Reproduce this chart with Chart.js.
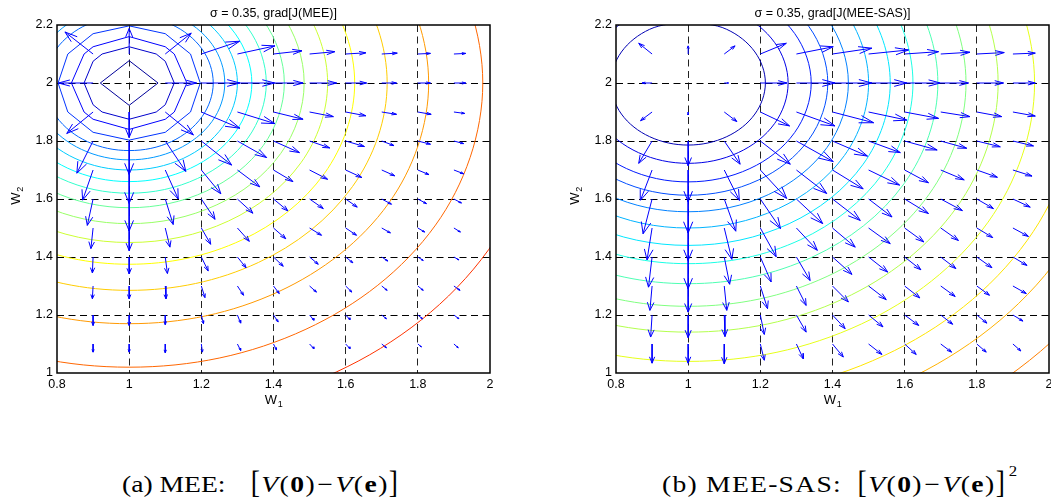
<!DOCTYPE html>
<html>
<head>
<meta charset="utf-8">
<script src="https://cdn.jsdelivr.net/npm/chart.js@4.4.0/dist/chart.umd.min.js"></script>
<style>
  html, body { margin: 0; padding: 0; background: #fff; width: 1051px; height: 504px; overflow: hidden; }
  .panel { position: absolute; top: 0; width: 500px; height: 410px; }
  #panelA { left: 0; }
  #panelB { left: 559px; }
  .cap { position: absolute; top: 472px; display: flex; align-items: baseline; white-space: pre;
         font-family: 'Liberation Serif', 'Times New Roman', serif; font-size: 23px; color: #000;
         transform: scaleX(1.2); transform-origin: 0 0; }
  .cap .math { display: inline-flex; align-items: baseline; letter-spacing: 1.2px; }
  .cap .br { display: inline-block; transform: scaleY(1.38); transform-origin: 50% 62%; font-weight: normal; }
  .cap .gap { display: inline-block; width: 21px; }
  .cap .mi { margin: 0 1px; }
  .cap .sq { font-size: 14px; position: relative; top: -16px; margin-left: 2px; }
  #capA { left: 122px; }
  #capB { left: 662px; }
  #capB .lbl { letter-spacing: 1.05px; }
  #capB .gap { width: 13px; }
</style>
</head>
<body>
<div class="panel" id="panelA"><canvas id="mee"></canvas></div>
<div class="panel" id="panelB"><canvas id="sas"></canvas></div>
<div class="cap" id="capA"><span class="lbl">(a) MEE:</span><span class="gap"></span><span class="math"><span class="br">[</span><i>V</i><span>(</span><b>0</b><span>)</span><span class="mi">−</span><i>V</i><span>(</span><b>e</b><span>)</span><span class="br">]</span></span></div>
<div class="cap" id="capB"><span class="lbl">(b) MEE-SAS:</span><span class="gap"></span><span class="math"><span class="br">[</span><i>V</i><span>(</span><b>0</b><span>)</span><span class="mi">−</span><i>V</i><span>(</span><b>e</b><span>)</span><span class="br">]</span></span><span class="sq">2</span></div>
<script>
// axis ticks
const xTicks = [0.8, 1, 1.2, 1.4, 1.6, 1.8, 2];
const yTicks = [1, 1.2, 1.4, 1.6, 1.8, 2, 2.2];

// arrow tails of the gradient field
const gridX = [0.9, 1.0, 1.1, 1.2, 1.3, 1.4, 1.5, 1.6, 1.7, 1.8, 1.9];
const gridY = [2.1, 2.0, 1.9, 1.8, 1.7, 1.6, 1.5, 1.4, 1.3, 1.2, 1.1];

// MEE gradient, one row per gridY value, one column per gridX value
const meeU = [
  [-0.078, 0, 0.072, 0.106, 0.104, 0.079, 0.07, 0.056, 0.043, 0.035, 0.033],
  [-0.096, 0, 0.087, 0.107, 0.103, 0.082, 0.075, 0.058, 0.041, 0.035, 0.033],
  [-0.073, 0, 0.078, 0.107, 0.104, 0.082, 0.066, 0.056, 0.041, 0.037, 0.03],
  [-0.045, 0, 0.057, 0.084, 0.081, 0.072, 0.056, 0.052, 0.034, 0.035, 0.027],
  [-0.029, 0, 0.036, 0.054, 0.062, 0.054, 0.05, 0.045, 0.036, 0.031, 0.027],
  [-0.016, 0, 0.022, 0.038, 0.043, 0.04, 0.038, 0.032, 0.027, 0.024, 0.021],
  [-0.006, 0, 0.013, 0.026, 0.033, 0.034, 0.033, 0.03, 0.024, 0.019, 0.018],
  [-0.002, 0, 0.006, 0.019, 0.024, 0.027, 0.024, 0.02, 0.017, 0.015, 0.014],
  [-0.002, 0, 0.002, 0.01, 0.017, 0.016, 0.019, 0.017, 0.015, 0.015, 0.017],
  [0, 0, 0, 0.006, 0.009, 0.013, 0.012, 0.012, 0.013, 0.013, 0.014],
  [0, 0, 0, 0.003, 0.009, 0.008, 0.012, 0.012, 0.013, 0.01, 0.012]
];
const meeV = [
  [0.076, 0.088, 0.072, 0.044, 0.028, 0.011, 0.008, 0.004, 0.003, 0.002, 0.002],
  [0, 0, 0, 0, 0, 0, 0, 0, 0, 0, 0],
  [-0.074, -0.088, -0.079, -0.056, -0.04, -0.025, -0.016, -0.013, -0.008, -0.008, -0.005],
  [-0.111, -0.115, -0.105, -0.083, -0.057, -0.04, -0.024, -0.019, -0.016, -0.011, -0.009],
  [-0.104, -0.115, -0.1, -0.082, -0.058, -0.04, -0.032, -0.026, -0.02, -0.016, -0.013],
  [-0.091, -0.11, -0.088, -0.07, -0.049, -0.041, -0.033, -0.028, -0.018, -0.016, -0.014],
  [-0.071, -0.078, -0.066, -0.056, -0.046, -0.037, -0.025, -0.025, -0.017, -0.014, -0.014],
  [-0.055, -0.058, -0.057, -0.048, -0.037, -0.032, -0.025, -0.02, -0.014, -0.012, -0.01],
  [-0.044, -0.044, -0.044, -0.04, -0.032, -0.026, -0.021, -0.021, -0.015, -0.015, -0.015],
  [-0.036, -0.036, -0.033, -0.03, -0.028, -0.024, -0.018, -0.016, -0.013, -0.013, -0.013],
  [-0.028, -0.028, -0.03, -0.028, -0.022, -0.02, -0.016, -0.016, -0.013, -0.01, -0.013]
];

// MEE-SAS gradient
const sasU = [
  [-0.037, 0, 0.03, 0.072, 0.102, 0.109, 0.111, 0.094, 0.081, 0.076, 0.062],
  [-0.028, 0, 0.012, 0.074, 0.107, 0.109, 0.106, 0.099, 0.077, 0.074, 0.062],
  [-0.032, 0, 0.035, 0.081, 0.107, 0.114, 0.106, 0.094, 0.081, 0.069, 0.062],
  [-0.037, 0, 0.044, 0.083, 0.102, 0.097, 0.088, 0.09, 0.072, 0.065, 0.057],
  [-0.032, 0, 0.042, 0.073, 0.084, 0.085, 0.086, 0.066, 0.065, 0.057, 0.053],
  [-0.025, 0, 0.032, 0.056, 0.073, 0.077, 0.065, 0.066, 0.06, 0.046, 0.048],
  [-0.014, 0, 0.021, 0.044, 0.058, 0.063, 0.06, 0.053, 0.049, 0.044, 0.043],
  [-0.01, 0, 0.015, 0.03, 0.038, 0.054, 0.053, 0.045, 0.042, 0.042, 0.039],
  [-0.006, 0, 0.007, 0.02, 0.027, 0.044, 0.049, 0.042, 0.04, 0.035, 0.037],
  [-0.004, 0, 0.002, 0.011, 0.027, 0.035, 0.04, 0.039, 0.033, 0.028, 0.028],
  [0, 0, 0, 0.011, 0.019, 0.03, 0.037, 0.032, 0.03, 0.026, 0.022]
];
const sasV = [
  [0.037, 0.028, 0.028, 0.037, 0.025, 0.02, 0.014, 0.008, 0.006, 0.005, 0.003],
  [0, 0, 0, 0, 0, 0, 0, 0, 0, 0, 0],
  [-0.03, -0.01, -0.033, -0.048, -0.048, -0.037, -0.028, -0.022, -0.016, -0.016, -0.014],
  [-0.077, -0.085, -0.08, -0.08, -0.071, -0.052, -0.04, -0.031, -0.025, -0.02, -0.017],
  [-0.104, -0.109, -0.105, -0.098, -0.081, -0.065, -0.052, -0.044, -0.034, -0.025, -0.021],
  [-0.12, -0.117, -0.111, -0.102, -0.085, -0.074, -0.062, -0.05, -0.04, -0.033, -0.028],
  [-0.11, -0.112, -0.108, -0.099, -0.077, -0.066, -0.054, -0.048, -0.043, -0.033, -0.029],
  [-0.104, -0.109, -0.094, -0.086, -0.081, -0.06, -0.052, -0.044, -0.04, -0.037, -0.029],
  [-0.084, -0.09, -0.084, -0.078, -0.067, -0.055, -0.047, -0.041, -0.036, -0.032, -0.026],
  [-0.076, -0.078, -0.074, -0.067, -0.059, -0.047, -0.041, -0.036, -0.032, -0.028, -0.021],
  [-0.066, -0.066, -0.068, -0.056, -0.051, -0.045, -0.036, -0.036, -0.028, -0.028, -0.024]
];

// contour lines of J(MEE), innermost first
const meeContours = [
  [[1.08,2],[1,2.077],[0.92,2],[1,1.923],[1.08,2]],
  [[1.125,2],[1.1,2.075],[1.075,2.1],[1,2.125],[0.925,2.1],[0.9,2.075],[0.875,2],[0.9,1.925],[0.925,1.9],[1,1.875],[1.075,1.9],[1.1,1.925],[1.125,2]],
  [[1.16,2],[1.125,2.1],[1.1,2.125],[1,2.16],[0.9,2.125],[0.875,2.1],[0.84,2],[0.875,1.9],[0.9,1.875],[1,1.84],[1.1,1.875],[1.125,1.9],[1.16,2]],
  [[1.197,2],[1.17,2.1],[1.1,2.17],[1,2.197],[0.9,2.17],[0.83,2.1],[0.803,2],[0.83,1.9],[0.9,1.83],[1,1.803],[1.1,1.83],[1.17,1.9],[1.197,2]],
  [[1,2.233],[0.884,2.202],[0.798,2.117],[0.767,2],[0.798,1.884],[0.884,1.798],[1,1.767],[1.117,1.798],[1.202,1.884],[1.233,2],[1.202,2.117],[1.117,2.202],[1,2.233]],
  [[1,2.265],[0.868,2.23],[0.771,2.133],[0.735,2],[0.771,1.868],[0.868,1.771],[1,1.735],[1.133,1.771],[1.23,1.868],[1.265,2],[1.23,2.133],[1.133,2.23],[1,2.265]],
  [[1,2.3],[1.15,2.26],[1.26,2.15],[1.3,2],[1.26,1.85],[1.15,1.74],[1,1.7],[0.85,1.74],[0.74,1.85],[0.7,2]],
  [[1,2.34],[1.17,2.294],[1.294,2.17],[1.34,2],[1.294,1.83],[1.17,1.706],[1,1.66],[0.83,1.706],[0.706,1.83],[0.66,2]],
  [[1,2.38],[1.19,2.329],[1.329,2.19],[1.38,2],[1.329,1.81],[1.19,1.671],[1,1.62],[0.81,1.671],[0.671,1.81],[0.62,2]],
  [[1,2.43],[1.215,2.372],[1.372,2.215],[1.43,2],[1.372,1.785],[1.215,1.628],[1,1.57],[0.785,1.628],[0.628,1.785],[0.57,2]],
  [[1,2.485],[1.243,2.42],[1.42,2.243],[1.485,2],[1.42,1.757],[1.243,1.58],[1,1.515],[0.757,1.58],[0.58,1.757],[0.515,2]],
  [[1,2.55],[1.275,2.476],[1.476,2.275],[1.55,2],[1.476,1.725],[1.275,1.524],[1,1.45],[0.725,1.524],[0.524,1.725],[0.45,2]],
  [[1,2.625],[1.313,2.541],[1.541,2.313],[1.625,2],[1.541,1.688],[1.313,1.459],[1,1.375],[0.688,1.459],[0.459,1.688],[0.375,2]],
  [[1,2.715],[1.358,2.619],[1.619,2.358],[1.715,2],[1.619,1.643],[1.358,1.381],[1,1.285],[0.643,1.381],[0.381,1.643],[0.285,2]],
  [[1,2.83],[1.415,2.719],[1.719,2.415],[1.83,2],[1.719,1.585],[1.415,1.281],[1,1.17],[0.585,1.281],[0.281,1.585],[0.17,2]],
  [[1,2.98],[1.49,2.849],[1.849,2.49],[1.98,2],[1.849,1.51],[1.49,1.151],[1,1.02],[0.51,1.151],[0.151,1.51],[0.02,2]],
  [[1,3.15],[1.575,2.996],[1.996,2.575],[2.15,2],[1.996,1.425],[1.575,1.004],[1,0.85],[0.425,1.004],[0.004,1.425],[-0.15,2]]
];

// contour lines of J(MEE-SAS), innermost first
const sasContours = [
  [[1,2.214],[0.893,2.185],[0.815,2.107],[0.786,2],[0.815,1.893],[0.893,1.815],[1,1.786],[1.107,1.815],[1.185,1.893],[1.214,2],[1.185,2.107],[1.107,2.185],[1,2.214]],
  [[1,2.277],[0.862,2.24],[0.76,2.139],[0.723,2],[0.76,1.861],[0.862,1.76],[1,1.723],[1.139,1.76],[1.24,1.861],[1.277,2],[1.24,2.139],[1.139,2.24],[1,2.277]],
  [[1,2.341],[1.171,2.295],[1.295,2.171],[1.341,2],[1.295,1.829],[1.171,1.705],[1,1.659],[0.829,1.705],[0.705,1.829],[0.659,2]],
  [[1,2.387],[1.194,2.335],[1.335,2.194],[1.387,2],[1.335,1.806],[1.194,1.665],[1,1.613],[0.806,1.665],[0.665,1.806],[0.613,2]],
  [[1,2.444],[1.222,2.385],[1.385,2.222],[1.444,2],[1.385,1.778],[1.222,1.615],[1,1.556],[0.778,1.615],[0.615,1.778],[0.556,2]],
  [[1,2.5],[1.25,2.433],[1.433,2.25],[1.5,2],[1.433,1.75],[1.25,1.567],[1,1.5],[0.75,1.567],[0.567,1.75],[0.5,2]],
  [[1,2.56],[1.28,2.485],[1.485,2.28],[1.56,2],[1.485,1.72],[1.28,1.515],[1,1.44],[0.72,1.515],[0.515,1.72],[0.44,2]],
  [[1,2.623],[1.312,2.54],[1.54,2.312],[1.623,2],[1.54,1.689],[1.312,1.46],[1,1.377],[0.689,1.46],[0.46,1.689],[0.377,2]],
  [[1,2.692],[1.346,2.599],[1.599,2.346],[1.692,2],[1.599,1.654],[1.346,1.401],[1,1.308],[0.654,1.401],[0.401,1.654],[0.308,2]],
  [[1,2.77],[1.385,2.667],[1.667,2.385],[1.77,2],[1.667,1.615],[1.385,1.333],[1,1.23],[0.615,1.333],[0.333,1.615],[0.23,2]],
  [[1,2.859],[1.43,2.744],[1.744,2.43],[1.859,2],[1.744,1.571],[1.43,1.256],[1,1.141],[0.571,1.256],[0.256,1.571],[0.141,2]],
  [[1,2.96],[1.48,2.831],[1.831,2.48],[1.96,2],[1.831,1.52],[1.48,1.169],[1,1.04],[0.52,1.169],[0.169,1.52],[0.04,2]],
  [[1,3.085],[1.543,2.94],[1.94,2.543],[2.085,2],[1.94,1.458],[1.543,1.06],[1,0.915],[0.458,1.06],[0.06,1.458],[-0.085,2]],
  [[1,3.19],[1.595,3.031],[2.031,2.595],[2.19,2],[2.031,1.405],[1.595,0.97],[1,0.81],[0.405,0.97],[-0.031,1.405],[-0.19,2]],
  [[1,3.345],[1.673,3.165],[2.165,2.673],[2.345,2],[2.165,1.328],[1.673,0.835],[1,0.655],[0.328,0.835],[-0.165,1.328],[-0.345,2]]
];

const FONT = "'Liberation Sans', Arial, sans-serif";

// matlab-style jet colormap
function jet(t) {
  const c = v => Math.round(255 * Math.max(0, Math.min(1, v)));
  return 'rgb(' + c(1.5 - Math.abs(4 * t - 3)) + ',' + c(1.5 - Math.abs(4 * t - 2)) + ',' + c(1.5 - Math.abs(4 * t - 1)) + ')';
}

// shaft + arrowhead for every grid point, broken up with null gaps
function quiverPoints(U, V) {
  const a = 0.33, b = 0.33;
  const pts = [];
  gridY.forEach((y, r) => {
    gridX.forEach((x, c) => {
      const u = U[r][c], v = V[r][c];
      if (!u && !v) return;
      const tx = x + u, ty = y + v;
      pts.push({x: x, y: y}, {x: tx, y: ty}, {x: tx, y: null});
      pts.push({x: tx - a * (u + b * v), y: ty - a * (v - b * u)}, {x: tx, y: ty},
               {x: tx - a * (u - b * v), y: ty - a * (v + b * u)}, {x: tx, y: null});
    });
  });
  return pts;
}

// W with a subscript index
function drawSub(ctx, main, sub, cx, y) {
  ctx.font = '13px ' + FONT;
  const w1 = ctx.measureText(main).width;
  ctx.font = '9px ' + FONT;
  const w2 = ctx.measureText(sub).width;
  const x0 = cx - (w1 + w2) / 2;
  ctx.textAlign = 'left';
  ctx.font = '13px ' + FONT;
  ctx.fillText(main, x0, y);
  ctx.font = '9px ' + FONT;
  ctx.fillText(sub, x0 + w1 + 0.5, y + 3);
}

// box around the plot, title and axis names
const framePlugin = {
  id: 'frame',
  afterDraw(chart, args, opts) {
    const ctx = chart.ctx, a = chart.chartArea;
    ctx.save();
    ctx.strokeStyle = '#000';
    ctx.lineWidth = 1.5;
    ctx.strokeRect(a.left, a.top, a.right - a.left, a.bottom - a.top);
    ctx.fillStyle = '#000';
    ctx.font = '12.5px ' + FONT;
    ctx.textAlign = 'center';
    ctx.textBaseline = 'alphabetic';
    ctx.fillText(opts.title, (a.left + a.right) / 2, a.top - 8);
    drawSub(ctx, 'W', '1', (a.left + a.right) / 2, a.bottom + 31);
    ctx.translate(a.left - 37, (a.top + a.bottom) / 2 - 3);
    ctx.rotate(-Math.PI / 2);
    drawSub(ctx, 'W', '2', 0, 0);
    ctx.restore();
  }
};

function makeChart(canvasId, title, U, V, contours, t0, firstSmooth) {
  const datasets = [{
    data: quiverPoints(U, V),
    borderColor: '#0000ff',
    borderWidth: 1,
    showLine: true,
    spanGaps: false,
    pointRadius: 0,
    order: 0
  }];
  contours.forEach((line, i) => {
    datasets.push({
      data: line.map(p => ({x: p[0], y: p[1]})),
      borderColor: jet(t0 + 0.05 * i),
      borderWidth: 1,
      showLine: true,
      pointRadius: 0,
      tension: i >= firstSmooth ? 0.35 : 0,
      order: 1
    });
  });

  const edgeGrid = (lo, hi, col) => ctx => (ctx.tick && (ctx.tick.value === lo || ctx.tick.value === hi)) ? 'rgba(0,0,0,0)' : col;

  return new Chart(document.getElementById(canvasId), {
    type: 'scatter',
    data: { datasets: datasets },
    options: {
      responsive: true,
      maintainAspectRatio: false,
      animation: false,
      events: [],
      layout: { padding: { top: 25, right: 10, left: 0, bottom: 0 } },
      elements: { line: { capBezierPoints: false } },
      plugins: {
        legend: { display: false },
        tooltip: { enabled: false },
        frame: { title: title }
      },
      scales: {
        x: {
          type: 'linear', min: 0.8, max: 2,
          afterBuildTicks: s => { s.ticks = xTicks.map(v => ({value: v})); },
          afterFit: s => { s.height = 37; },
          ticks: { callback: v => String(v), color: '#000', font: { family: FONT, size: 12.5 }, padding: 4, maxRotation: 0, autoSkip: false },
          grid: { drawTicks: false, color: edgeGrid(0.8, 2, '#222'), lineWidth: 1 },
          border: { display: false, dash: [7, 4.5] }
        },
        y: {
          type: 'linear', min: 1, max: 2.2,
          afterBuildTicks: s => { s.ticks = yTicks.map(v => ({value: v})); },
          afterFit: s => { s.width = 57; },
          ticks: { callback: v => String(v), color: '#000', font: { family: FONT, size: 12.5 }, padding: 4, autoSkip: false },
          grid: { drawTicks: false, color: edgeGrid(1, 2.2, '#000'), lineWidth: 1 },
          border: { display: false, dash: [7, 4.5] }
        }
      }
    },
    plugins: [framePlugin]
  });
}

makeChart('mee', 'σ = 0.35, grad[J(MEE)]', meeU, meeV, meeContours, 0.025, 4);
makeChart('sas', 'σ = 0.35, grad[J(MEE-SAS)]', sasU, sasV, sasContours, 0.05, 0);
</script>
</body>
</html>
